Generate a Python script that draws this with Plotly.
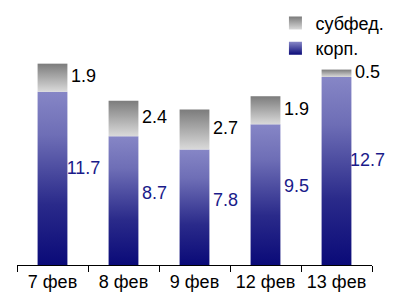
import plotly.graph_objects as go

dates = ["7 фев", "8 фев", "9 фев", "12 фев", "13 фев"]
korp = [11.7, 8.7, 7.8, 9.5, 12.7]
subfed = [1.9, 2.4, 2.7, 1.9, 0.5]
series_names = ["субфед.", "корп."]

FONT = "Liberation Sans, Arial, sans-serif"
FS = 18
W = 0.42
LABEL_DX = 0.437
KORP_SCALE = [[0, "#0a0a78"], [0.35, "#2a2a8a"], [0.75, "#6e6eb6"], [1, "#8686c6"]]
SUB_SCALE = [[0, "#dadada"], [1, "#7c7c7c"]]

fig = go.Figure()
for i, (k, s) in enumerate(zip(korp, subfed)):
    x0, x1 = i - W / 2, i + W / 2
    fig.add_trace(go.Scatter(
        x=[x0, x1, x1, x0, x0], y=[0, 0, k, k, 0], fill="toself", mode="lines",
        line=dict(width=0), fillgradient=dict(type="vertical", colorscale=KORP_SCALE, start=0, stop=k),
        showlegend=False, hoverinfo="skip"))
    fig.add_trace(go.Scatter(
        x=[x0, x1, x1, x0, x0], y=[k, k, k + s, k + s, k], fill="toself", mode="lines",
        line=dict(width=0), fillgradient=dict(type="vertical", colorscale=SUB_SCALE, start=k, stop=k + s),
        showlegend=False, hoverinfo="skip"))

xs = [i + LABEL_DX for i in range(len(dates))]
fig.add_trace(go.Scatter(
    x=xs, y=[k * 0.55 for k in korp], mode="text", text=[f"{v:.1f}" for v in korp],
    textposition="middle center", textfont=dict(color="#1a1a8a", size=FS, family=FONT),
    showlegend=False, hoverinfo="skip", cliponaxis=False))
fig.add_trace(go.Scatter(
    x=xs, y=[k + s / 2 for k, s in zip(korp, subfed)], mode="text", text=[f"{v:.1f}" for v in subfed],
    textposition="middle center", textfont=dict(color="#000000", size=FS, family=FONT),
    showlegend=False, hoverinfo="skip", cliponaxis=False))

# legend entries (one legend box per entry so each row can be placed)
fig.add_trace(go.Scatter(
    x=[None], y=[None], mode="markers", name=series_names[0], legend="legend",
    marker=dict(symbol="square", size=13, color="#7c7c7c",
                gradient=dict(type="vertical", color="#dadada"))))
fig.add_trace(go.Scatter(
    x=[None], y=[None], mode="markers", name=series_names[1], legend="legend2",
    marker=dict(symbol="square", size=13, color="#8686c6",
                gradient=dict(type="vertical", color="#0a0a78"))))

leg_common = dict(x=0.728, xanchor="left", yanchor="top",
                  font=dict(size=FS, family=FONT), bgcolor="rgba(0,0,0,0)", itemwidth=30)

fig.update_layout(
    width=400, height=306,
    margin=dict(l=9, r=36, t=0, b=49, autoexpand=False),
    paper_bgcolor="white", plot_bgcolor="white",
    font=dict(family=FONT, size=FS, color="black"),
    showlegend=True,
    legend=dict(y=1.012, **leg_common),
    legend2=dict(y=0.914, **leg_common),
    xaxis=dict(type="linear", range=[-0.5, 4.5], tickvals=list(range(len(dates))), ticktext=dates,
               ticks="", showline=True, linecolor="black", linewidth=1, showgrid=False, zeroline=False,
               automargin=False, tickfont=dict(size=FS, family=FONT, color="black"),
               minor=dict(tickvals=[i - 0.5 for i in range(len(dates) + 1)], ticks="outside",
                          ticklen=6, tickcolor="black", tickwidth=1, showgrid=False)),
    yaxis=dict(visible=False, range=[0, 17.36], showgrid=False, zeroline=False, automargin=False),
)

fig.write_html("out.html")
